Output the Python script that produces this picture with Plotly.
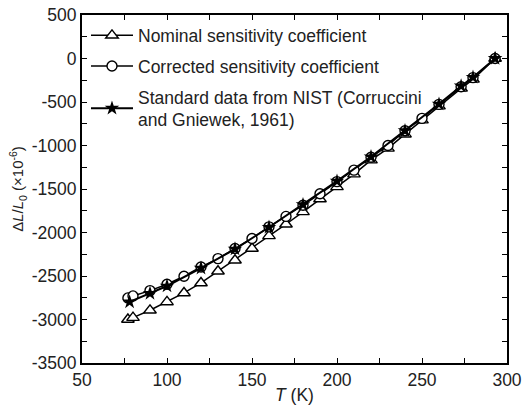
import plotly.graph_objects as go

# Temperatures (K)
T_nom = [77, 80, 90, 100, 110, 120, 130, 140, 150, 160, 170, 180, 190, 200,
         210, 220, 230, 240, 250, 260, 273, 280, 293]
nominal = [-3000, -2978, -2894, -2798, -2695, -2580, -2445, -2319, -2184, -2039,
           -1905, -1763, -1615, -1475, -1329, -1168, -1033, -870, -708, -547,
           -343, -240, 0]

T_cor = T_nom
corrected = [-2752, -2729, -2668, -2595, -2503, -2396, -2300, -2184, -2069, -1935,
             -1815, -1686, -1555, -1415, -1283, -1135, -1000, -830, -688, -527,
             -325, -220, 0]

T_nist = [78, 90, 100, 120, 140, 160, 180, 200, 220, 240, 260, 273, 280, 293]
nist = [-2798, -2700, -2615, -2410, -2190, -1940, -1680, -1410, -1130, -830,
        -524, -316, -216, 0]

names = ["Nominal sensitivity coefficient",
         "Corrected sensitivity coefficient",
         "Standard data from NIST (Corruccini<br>and Gniewek, 1961)"]

x_ticks = [50, 100, 150, 200, 250, 300]
x_labels = ["50", "100", "150", "200", "250", "300"]
y_ticks = [500, 0, -500, -1000, -1500, -2000, -2500, -3000, -3500]
y_labels = ["500", "0", "-500", "-1000", "-1500", "-2000", "-2500", "-3000", "-3500"]

FONT = "Liberation Sans, Arial, sans-serif"
FS = 17.5

fig = go.Figure()
fig.add_trace(go.Scatter(
    x=T_nom, y=nominal, name=names[0], mode="lines+markers", legendgroup="a",
    line=dict(color="black", width=1.5),
    marker=dict(symbol="triangle-up", size=11, color="white",
                line=dict(width=1.4, color="black"))))
fig.add_trace(go.Scatter(
    x=T_cor, y=corrected, name=names[1], mode="lines+markers", legendgroup="b",
    line=dict(color="black", width=1.5),
    marker=dict(symbol="circle", size=10, color="white",
                line=dict(width=1.4, color="black"))))
fig.add_trace(go.Scatter(
    x=T_nist, y=nist, name=names[2], mode="lines+markers", legendgroup="c",
    line=dict(color="black", width=2),
    marker=dict(symbol="star", size=11, color="black",
                line=dict(width=0, color="black"))))

axis_common = dict(
    showgrid=False, zeroline=False, showline=True, linecolor="black",
    linewidth=2, mirror="ticks", ticks="inside", ticklen=5, tickwidth=1.3,
    tickcolor="black", tickfont=dict(family=FONT, size=FS, color="#222"),
    automargin=False,
)

fig.update_xaxes(
    range=[50, 300], tickvals=x_ticks, ticktext=x_labels,
    minor=dict(ticks="inside", dtick=25, ticklen=5, tickwidth=1.3, tickcolor="black"),
    title=dict(text="<i>T</i> (K)", font=dict(family=FONT, size=FS, color="#222"),
               standoff=0),
    **axis_common)
fig.update_yaxes(
    range=[-3500, 500], tickvals=y_ticks, ticktext=y_labels,
    minor=dict(ticks="inside", dtick=250, ticklen=5, tickwidth=1.3, tickcolor="black"),
    title=dict(text="Δ<i>L</i>/<i>L</i><sub>0</sub> (×10<sup>-6</sup>)",
               font=dict(family=FONT, size=15, color="#222"), standoff=4),
    **axis_common)

fig.update_layout(
    width=522, height=406,
    margin=dict(l=82, r=15, t=15, b=43),
    plot_bgcolor="white", paper_bgcolor="white",
    font=dict(family=FONT, color="#222"),
    showlegend=True,
    legend=dict(x=0.0094, y=0.993, xanchor="left", yanchor="top",
                bgcolor="rgba(0,0,0,0)", borderwidth=0,
                font=dict(family=FONT, size=FS, color="#222"),
                tracegroupgap=5, itemwidth=42),
)

fig.write_html("out.html",
               config={"displayModeBar": False},
               post_script="document.body.style.margin='0';document.body.style.overflow='hidden';")
